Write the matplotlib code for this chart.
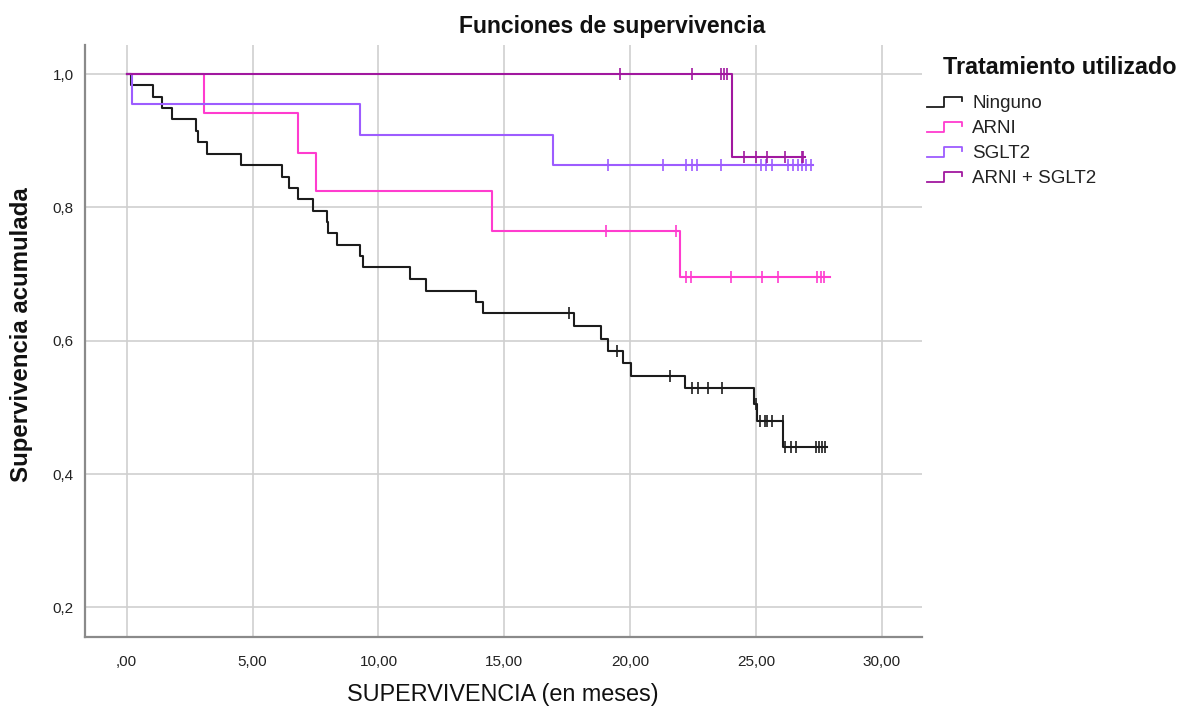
import numpy as np
import matplotlib
matplotlib.use("Agg")
import matplotlib.pyplot as plt
from matplotlib.lines import Line2D
from matplotlib.legend_handler import HandlerBase

plt.rcParams['font.family'] = ['Liberation Sans', 'DejaVu Sans']

# ---- Kaplan-Meier estimates per treatment group ----
groups = ["Ninguno", "ARNI", "SGLT2", "ARNI + SGLT2"]
colors = ["#1c1c1c", "#ff3ccf", "#9d5cff", "#a1189f"]

# Ninguno
ninguno_event_t = [0.16, 1.03, 1.42, 1.79, 2.74, 2.84, 3.18, 4.54, 6.16, 6.46,
                   6.82, 7.41, 7.95, 8.01, 8.34, 9.27, 9.40, 11.26, 11.89, 13.88,
                   14.17, 17.75, 18.84, 19.13, 19.73, 20.04, 22.17, 24.92, 25.05, 26.09]
ninguno_surv = [0.983, 0.966, 0.949, 0.932, 0.915, 0.898, 0.880, 0.863, 0.846, 0.829,
                0.812, 0.795, 0.778, 0.761, 0.744, 0.727, 0.710, 0.692, 0.675, 0.658,
                0.641, 0.622, 0.603, 0.584, 0.566, 0.547, 0.529, 0.505, 0.479, 0.441]
ninguno_censor_t = [17.55, 19.47, 21.59, 22.45, 22.71, 23.11, 23.64, 24.98,
                    25.16, 25.36, 25.43, 25.63, 26.06, 26.15, 26.38, 26.59,
                    27.39, 27.52, 27.61, 27.72]
ninguno_end = 27.81

# ARNI
arni_event_t = [3.07, 6.82, 7.51, 14.50, 21.98]
arni_surv = [0.941, 0.882, 0.824, 0.765, 0.695]
arni_censor_t = [19.03, 21.81, 22.22, 22.41, 24.00, 25.23, 25.89, 27.44, 27.57, 27.71]
arni_end = 27.93

# SGLT2
sglt2_event_t = [0.22, 9.27, 16.92]
sglt2_surv = [0.955, 0.909, 0.864]
sglt2_censor_t = [19.13, 21.32, 22.22, 22.45, 22.67, 23.60, 25.20, 25.39, 25.63,
                  26.28, 26.46, 26.66, 26.82, 26.99, 27.20]
sglt2_end = 27.28

# ARNI + SGLT2
combo_event_t = [24.04]
combo_surv = [0.875]
combo_censor_t = [19.60, 22.45, 23.60, 23.73, 23.86, 24.54, 25.00, 25.43, 26.15,
                  26.82, 26.88]
combo_end = 26.95

series = [
    (ninguno_event_t, ninguno_surv, ninguno_censor_t, ninguno_end),
    (arni_event_t, arni_surv, arni_censor_t, arni_end),
    (sglt2_event_t, sglt2_surv, sglt2_censor_t, sglt2_end),
    (combo_event_t, combo_surv, combo_censor_t, combo_end),
]

x_ticks = [0, 5, 10, 15, 20, 25, 30]
x_tick_labels = [",00", "5,00", "10,00", "15,00", "20,00", "25,00", "30,00"]
y_ticks = [0.2, 0.4, 0.6, 0.8, 1.0]
y_tick_labels = ["0,2", "0,4", "0,6", "0,8", "1,0"]

W, H = 1179, 709
fig = plt.figure(figsize=(W / 100, H / 100), dpi=100)
ax = fig.add_axes([85 / W, 1 - 636.7 / H, (921.7 - 85) / W, (636.7 - 45) / H])

grid_col = "#cfcfcf"
for gx in x_ticks:
    ax.axvline(gx, color=grid_col, lw=1.2, zorder=0)
for gy in y_ticks:
    ax.axhline(gy, color=grid_col, lw=1.2, zorder=0)

for (ev_t, surv, cen_t, end), col in zip(series, colors):
    t = [0.0] + list(ev_t) + [end]
    s = [1.0] + list(surv) + [surv[-1]]
    ax.step(t, s, where="post", color=col, lw=1.5, zorder=3)
    levels = np.array([1.0] + list(surv))
    idx = np.searchsorted(np.array(ev_t), np.array(cen_t), side="right")
    ax.plot(cen_t, levels[idx], linestyle="none", marker="|", markersize=8.5,
            markeredgewidth=1.2, color=col, zorder=4)

ax.set_xlim(-1.657, 31.58)
ax.set_ylim(0.156, 1.0435)
ax.set_xticks(x_ticks)
ax.set_xticklabels(x_tick_labels)
ax.set_yticks(y_ticks)
ax.set_yticklabels(y_tick_labels)
ax.tick_params(axis="both", length=0, labelsize=11, colors="#222222")
ax.tick_params(axis="x", pad=13)
ax.tick_params(axis="y", pad=8)

for side in ["top", "right"]:
    ax.spines[side].set_visible(False)
for side in ["left", "bottom"]:
    ax.spines[side].set_color("#8a8a8a")
    ax.spines[side].set_linewidth(1.6)

ax.set_xlabel("SUPERVIVENCIA (en meses)", fontsize=16.8, color="#111111")
ax.xaxis.set_label_coords((503 - 85) / (921.7 - 85), -(695 - 636.7) / (636.7 - 45))
ax.xaxis.label.set_va("center")
ax.set_ylabel("Supervivencia acumulada", fontsize=17.3, fontweight="bold", color="#111111")
ax.yaxis.set_label_coords((22 - 85) / (921.7 - 85), (636.7 - 335) / (636.7 - 45))
ax.yaxis.label.set_va("center")

fig.text(612 / W, 1 - 27 / H, "Funciones de supervivencia", fontsize=16.5,
         fontweight="bold", ha="center", va="center", color="#111111")


class StepHandler(HandlerBase):
    def create_artists(self, legend, orig_handle, xdescent, ydescent, width,
                       height, fontsize, trans):
        x0, y0 = -xdescent, -ydescent
        xs = [x0, x0 + 0.5 * width, x0 + 0.5 * width, x0 + width, x0 + width]
        ys = [y0 + 0.1 * height, y0 + 0.1 * height, y0 + 0.85 * height,
              y0 + 0.85 * height, y0 + 0.55 * height]
        ln = Line2D(xs, ys, color=orig_handle.get_color(), lw=1.3)
        ln.set_transform(trans)
        return [ln]


handles = [Line2D([], [], color=c) for c in colors]
leg = fig.legend(handles, groups, loc="upper left",
                 bbox_to_anchor=(927 / W, 1 - 95 / H), frameon=False,
                 fontsize=13.5, handlelength=1.85, handletextpad=0.55,
                 labelspacing=0.42, borderpad=0, borderaxespad=0,
                 handler_map={Line2D: StepHandler()})
for txt in leg.get_texts():
    txt.set_color("#222222")

fig.text(943 / W, 1 - 68 / H, "Tratamiento utilizado", fontsize=16.8,
         fontweight="bold", ha="left", va="center", color="#111111")

fig.savefig("out.png", dpi=100)
